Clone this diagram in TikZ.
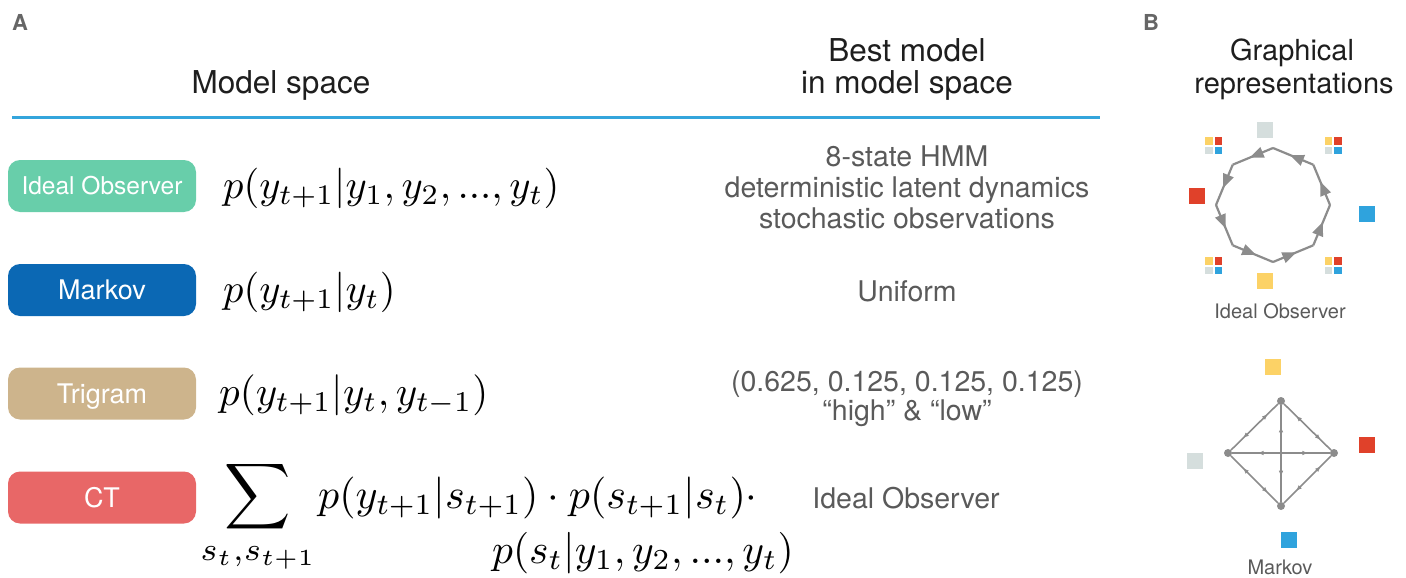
\documentclass[tikz,border=0pt]{standalone}
\usepackage{graphicx}
\usepackage[no-math]{fontspec}
\setmainfont{TeX Gyre Heros}
\usetikzlibrary{arrows.meta,decorations.markings,calc}
\newcommand{\fmath}[2][4.05]{\scalebox{#1}{\fontsize{10}{12}\selectfont$#2$}}
\definecolor{ioc}{HTML}{68CEAA}
\definecolor{mkc}{HTML}{0B68B4}
\definecolor{trc}{HTML}{CDB48C}
\definecolor{ctc}{HTML}{E86767}
\definecolor{rulec}{HTML}{34A5DC}
\definecolor{sqred}{HTML}{E0412A}
\definecolor{sqblue}{HTML}{2FA3DD}
\definecolor{sqyel}{HTML}{FCD266}
\definecolor{sqgray}{HTML}{D5DEDD}
\definecolor{edgec}{HTML}{8C8C8C}
\definecolor{txtgray}{HTML}{5A5A5A}
\definecolor{hdc}{HTML}{1E1E1E}
\definecolor{labc}{HTML}{666666}
\tikzset{
  panel/.style={font=\fontsize{22}{24}\selectfont\bfseries, text=labc, anchor=base west, inner sep=0},
  hd/.style={font=\fontsize{31.5}{34}\selectfont, text=hdc, anchor=base, inner sep=0},
  hdb/.style={font=\fontsize{29}{32}\selectfont, text=hdc, anchor=base, inner sep=0},
  rc/.style={font=\fontsize{28.5}{31}\selectfont, text=txtgray, anchor=base, inner sep=0},
  mbox/.style={rounded corners=12, minimum width=188, minimum height=52, inner sep=0,
     text=white, font=\fontsize{27}{29}\selectfont, text height=19.5, text depth=0},
  fm/.style={anchor=base west, inner sep=0},
  bigsq/.style={minimum size=16, inner sep=0},
  minisq/.style={minimum size=7.5, inner sep=0},
  glab/.style={font=\fontsize{20}{22}\selectfont, text=txtgray, anchor=base, inner sep=0},
  ioedge/.style={draw=edgec, line width=2.2, line join=round,
     postaction={decorate}, decoration={markings,
       mark=at position 0.58 with {\arrow[edgec]{Triangle[length=14,width=11]}}}},
  mkedge/.style={draw=edgec, line width=1.6,
     postaction={decorate}, decoration={markings,
       mark=at position 0.27 with {\arrowreversed[edgec]{Triangle[length=5,width=4]}},
       mark=at position 0.77 with {\arrow[edgec]{Triangle[length=5,width=4]}}}},
  mkdot/.style={circle, fill=edgec, minimum size=8, inner sep=0},
}
\begin{document}
\begin{tikzpicture}[x=1pt,y=-1pt]
\useasboundingbox (0,0) rectangle (1406,578);
% panel labels
\node[panel] (la) at (12,31) {A};
\node[panel] (lb) at (1143,31) {B};
% headings
\node[hd] (hms) at (281,94) {Model space};
\node[hd] (hb1) at (907,62) {Best model};
\node[hd] (hb2) at (907,94) {in model space};
\node[hdb] (hg1) at (1292,60) {Graphical};
\node[hdb] (hg2) at (1294,93) {representations};
% rule
\coordinate (r0) at (12,117.5);
\coordinate (r1) at (1100,117.5);
\draw[rulec, line width=3] (r0) -- (r1);
% model boxes
\node[mbox, fill=ioc, font=\fontsize{24.5}{27}\selectfont, text height=17.6] (bio) at (102,186) {Ideal Observer};
\node[mbox, fill=mkc] (bmk) at (102,290) {Markov};
\node[mbox, fill=trc] (btr) at (102,393.5) {Trigram};
\node[mbox, fill=ctc] (bct) at (102,497.5) {CT};
% formulas
\node[fm] (f1) at (223,198) {\fmath{p(y_{t+1}|y_1,y_2,...,y_t)}};
\node[fm] (f2) at (223,302) {\fmath{p(y_{t+1}|y_t)}};
\node[fm] (f3) at (219,405) {\fmath[4.1]{p(y_{t+1}|y_t,y_{t-1})}};
\node[anchor=base, inner sep=0] (f4s) at (258,508) {\fmath[4.6]{\displaystyle\sum_{s_t,s_{t+1}}}};
\node[fm] (f4) at (318,508) {\fmath[4.2]{p(y_{t+1}|s_{t+1})\cdot p(s_{t+1}|s_t)\cdot}};
\node[fm] (f5) at (492,563) {\fmath[4.15]{p(s_t|y_1,y_2,...,y_t)}};
% right column
\node[rc] (c1a) at (907,166) {8-state HMM};
\node[rc] (c1b) at (907,197) {deterministic latent dynamics};
\node[rc] (c1c) at (907,228) {stochastic observations};
\node[rc] (c2) at (907,301) {Uniform};
\node[rc] (c3a) at (907,391) {(0.625, 0.125, 0.125, 0.125)};
\node[rc] (c3b) at (907,420) {“high” \& “low”};
\node[rc] (c4) at (906,508) {Ideal Observer};
% ideal observer graph
\coordinate (ioc0) at (1273,205);
\foreach \k in {0,...,7} {\coordinate (v\k) at ($(ioc0)+(\k*45:57)$);}
\foreach \a/\b in {3/2,2/1,1/0,0/7,7/6,6/5,5/4,4/3} {\draw[ioedge] (v\a) -- (v\b);}
\node[bigsq, fill=sqgray] (s1) at (1265,130) {};
\node[bigsq, fill=sqred] (s2) at (1197,196) {};
\node[bigsq, fill=sqblue] (s3) at (1367,214) {};
\node[bigsq, fill=sqyel] (s4) at (1265,281) {};
\foreach \n/\x/\y in {g1/1213.5/145.5, g2/1333/145.5, g3/1213.5/265.5, g4/1333/265.5} {
  \node[minisq, fill=sqyel] (\n y) at (\x-4.75,\y-4.75) {};
  \node[minisq, fill=sqred] (\n r) at (\x+4.75,\y-4.75) {};
  \node[minisq, fill=sqgray] (\n g) at (\x-4.75,\y+4.75) {};
  \node[minisq, fill=sqblue] (\n b) at (\x+4.75,\y+4.75) {};
}
\node[glab] (lio) at (1280,318) {Ideal Observer};
% markov graph
\node[mkdot] (mt) at (1281,401) {};
\node[mkdot] (ml) at (1228,453) {};
\node[mkdot] (mr) at (1334,453) {};
\node[mkdot] (mb) at (1281,506) {};
\draw[mkedge] (ml) -- (mt);
\draw[mkedge] (mt) -- (mr);
\draw[mkedge] (ml) -- (mb);
\draw[mkedge] (mb) -- (mr);
\draw[mkedge] (ml) -- (mr);
\draw[mkedge] (mb) -- (mt);
\node[bigsq, fill=sqyel] (q1) at (1273,367) {};
\node[bigsq, fill=sqred] (q2) at (1367,445) {};
\node[bigsq, fill=sqgray] (q3) at (1195,461) {};
\node[bigsq, fill=sqblue] (q4) at (1289,540) {};
\node[glab] (lmk) at (1280,574) {Markov};
\end{tikzpicture}
\end{document}
